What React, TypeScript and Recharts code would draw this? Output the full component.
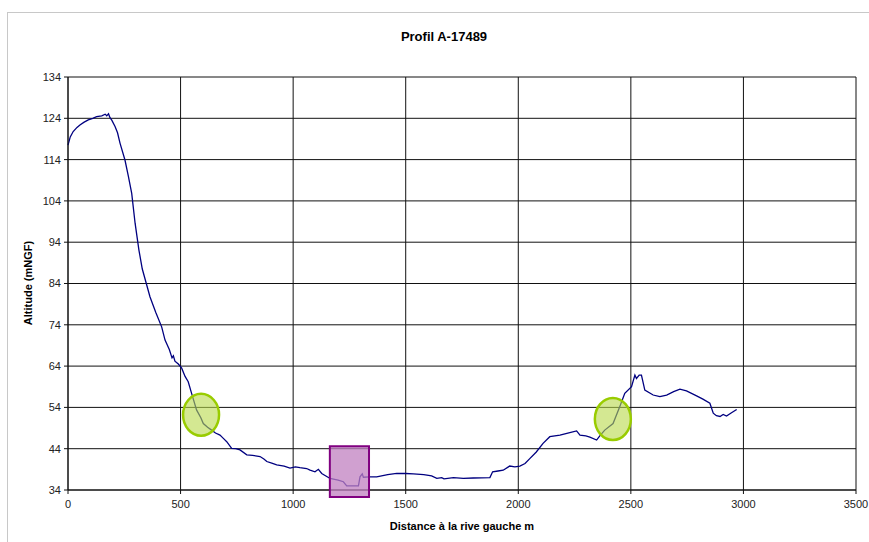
import React from "react";
import {
  LineChart,
  Line,
  XAxis,
  YAxis,
  CartesianGrid,
  ReferenceArea,
  ReferenceDot,
} from "recharts";

// distance (m) along the section
const distances = [
  0, 10, 23, 40, 53, 70, 90, 110, 127, 150, 165, 172, 180, 186, 195, 209, 220, 231, 253, 268,
  283, 298, 315, 330, 364, 390, 416, 431, 450, 462, 468, 475, 490, 505, 520, 534, 549, 571, 590,
  601, 620, 638, 655, 675, 690, 705, 727, 745, 764, 794, 820, 853, 870, 883, 905, 927, 960, 986,
  1010, 1030, 1060, 1075, 1097, 1112, 1127, 1164, 1200, 1223, 1238, 1260, 1290, 1297, 1307, 1312,
  1340, 1371, 1420, 1460, 1500, 1534, 1580, 1615, 1638, 1660, 1670, 1712, 1756, 1800, 1874, 1886,
  1910, 1933, 1962, 1985, 2007, 2030, 2051, 2080, 2110, 2140, 2185, 2220, 2259, 2274, 2300, 2318,
  2348, 2362, 2384, 2421, 2451, 2473, 2503, 2518, 2525, 2537, 2547, 2562, 2599, 2629, 2659, 2690,
  2718, 2747, 2792, 2820, 2851, 2866, 2880, 2896, 2910, 2925, 2947, 2970,
];

// altitude (mNGF)
const altitudes = [
  117.5, 119.5, 120.8, 121.8, 122.4, 123, 123.6, 124, 124.4, 124.6, 125, 124.6, 125.1, 124.2, 123.5,
  122, 120.5, 118, 113.9, 110, 105.8, 98.6, 92.1, 87.5, 80.8, 77, 73.5, 70.3, 68, 66, 66.5, 65.2,
  64.5, 63.5, 61.5, 60.2, 57.4, 53.4, 51.5, 50.1, 49.2, 48.5, 47.8, 47.3, 46.5, 45.7, 44.1, 44.0,
  43.7, 42.5, 42.4, 42.1, 41.5, 40.9, 40.5, 40.1, 39.8, 39.3, 39.6, 39.4, 39.2, 38.8, 38.4, 39,
  38, 36.8, 36.4, 36, 35, 35, 35, 37.2, 37.9, 37.1, 37.2, 37.2, 37.7, 38, 38, 37.9, 37.7, 37.4,
  36.8, 37.0, 36.7, 37, 36.8, 36.9, 37, 38.4, 38.6, 38.8, 39.8, 39.6, 39.8, 40.4, 41.6, 43.2,
  45.3, 46.9, 47.3, 47.8, 48.3, 47.3, 47.1, 46.8, 46.1, 47.1, 48.5, 50.1, 54.2, 57.4, 59, 61.8,
  61, 61.8, 61.8, 58.2, 57, 56.6, 57, 57.8, 58.4, 58, 56.8, 56, 55, 52.6, 52.0, 51.8, 52.3, 51.9,
  52.7, 53.5,
];

const xTicks = [0, 500, 1000, 1500, 2000, 2500, 3000, 3500];
const yTicks = [34, 44, 54, 64, 74, 84, 94, 104, 114, 124, 134];

// markers drawn over the profile
const bankMarks = [
  { x: 591, y: 52.2 },
  { x: 2420, y: 51.2 },
];
const channelBox = { x1: 1163, x2: 1337, y1: 32.3, y2: 44.6 };

const data = distances.map((d, i) => ({ d, alt: altitudes[i] }));

const FONT = "'Liberation Sans', Arial, sans-serif";
const tickStyle = { fontSize: 11, fill: "#222", fontFamily: FONT };

function Ellipse(props: any) {
  const { cx, cy } = props;
  return (
    <ellipse
      cx={cx}
      cy={cy}
      rx={18}
      ry={21}
      fill="#b8d84a"
      fillOpacity={0.6}
      stroke="#99cc00"
      strokeWidth={2.5}
    />
  );
}

export default function App() {
  return (
    <div
      style={{
        position: "absolute",
        left: 0,
        top: 0,
        width: 869,
        height: 542,
        overflow: "hidden",
        background: "#fff",
      }}
    >
      <div
        style={{
          position: "absolute",
          left: 7,
          top: 12,
          width: 870,
          height: 540,
          borderLeft: "1px solid #c8c8c8",
          borderTop: "1px solid #c8c8c8",
        }}
      />
      <div
        style={{
          position: "absolute",
          left: 0,
          width: 888,
          top: 29,
          textAlign: "center",
          fontFamily: FONT,
          fontWeight: "bold",
          fontSize: 13,
        }}
      >
        Profil A-17489
      </div>
      <div
        style={{
          position: "absolute",
          left: 0,
          width: 924,
          top: 520,
          textAlign: "center",
          fontFamily: FONT,
          fontWeight: "bold",
          fontSize: 11,
        }}
      >
        Distance à la rive gauche m
      </div>
      <div
        style={{
          position: "absolute",
          left: 28,
          top: 283,
          transform: "translate(-50%, -50%) rotate(-90deg)",
          whiteSpace: "nowrap",
          fontFamily: FONT,
          fontWeight: "bold",
          fontSize: 11,
        }}
      >
        Altitude (mNGF)
      </div>
      <div style={{ position: "absolute", left: 0, top: 0 }}>
        <LineChart
          width={869}
          height={542}
          data={data}
          margin={{ top: 77, right: 13, bottom: 22, left: 28 }}
        >
          <CartesianGrid stroke="#111" strokeWidth={1} />
          <XAxis
            dataKey="d"
            type="number"
            domain={[0, 3500]}
            ticks={xTicks}
            tick={tickStyle}
            tickSize={4}
            tickMargin={6}
            stroke="#111"
            height={30}
          />
          <YAxis
            type="number"
            domain={[34, 134]}
            ticks={yTicks}
            tick={tickStyle}
            tickSize={4}
            tickMargin={3}
            stroke="#111"
            width={40}
            allowDataOverflow
          />
          <Line
            type="linear"
            dataKey="alt"
            stroke="#000080"
            strokeWidth={1.3}
            dot={false}
            isAnimationActive={false}
          />
          <ReferenceArea
            x1={channelBox.x1}
            x2={channelBox.x2}
            y1={channelBox.y1}
            y2={channelBox.y2}
            ifOverflow="visible"
            fill="#c080c0"
            fillOpacity={0.75}
            stroke="#800080"
            strokeWidth={2}
            zIndex={1000}
          />
          {bankMarks.map((m, i) => (
            <ReferenceDot
              key={i}
              x={m.x}
              y={m.y}
              ifOverflow="visible"
              shape={Ellipse}
              zIndex={1000}
            />
          ))}
        </LineChart>
      </div>
    </div>
  );
}
